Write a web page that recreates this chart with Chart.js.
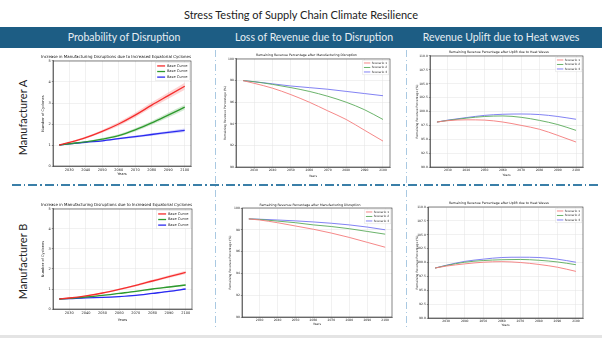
<!DOCTYPE html>
<html>
<head>
<meta charset="utf-8">
<script src="https://cdn.jsdelivr.net/npm/chart.js@4.4.1/dist/chart.umd.min.js"></script>
<style>
  body { margin: 0; width: 602px; height: 338px; position: relative; background: #fff; overflow: hidden; font-family: Lato, sans-serif; }
  #title { position: absolute; left: 0; top: 8px; width: 602px; text-align: center; font-size: 11px; color: #222; }
  #band { position: absolute; left: 0; top: 27px; width: 602px; height: 21px; background: #1d5d84; }
  .hd { position: absolute; top: 31px; width: 200px; margin-left: -100px; text-align: center; font-size: 10.5px; color: #e6edf3; white-space: nowrap; }
  .rowlbl { position: absolute; width: 120px; margin-left: -60px; text-align: center; font-size: 11px; color: #222; transform: rotate(-90deg); white-space: nowrap; }
  .vsep { position: absolute; width: 1px;
    background: repeating-linear-gradient(to bottom, #a9c9e2 0 7px, transparent 7px 10px, #a9c9e2 10px 11px, transparent 11px 14px); }
  #hsep { position: absolute; left: 12px; top: 184px; width: 588px; height: 1.5px;
    background: repeating-linear-gradient(to right, #3a7fa8 0 9px, transparent 9px 12px, #3a7fa8 12px 13.5px, transparent 13.5px 16.5px); }
  #foot { position: absolute; left: 0; top: 335px; width: 602px; height: 3px; background: #e4e4e4; }
  .box { position: absolute; }
</style>
</head>
<body>
<div id="title">Stress Testing of Supply Chain Climate Resilience</div>
<div id="band"></div>
<div class="hd" style="left:124px">Probability of Disruption</div>
<div class="hd" style="left:314px">Loss of Revenue due to Disruption</div>
<div class="hd" style="left:501px">Revenue Uplift due to Heat waves</div>
<div class="rowlbl" style="left:22px; top:111px">Manufacturer A</div>
<div class="rowlbl" style="left:22px; top:255px">Manufacturer B</div>
<div class="vsep" style="left:215px; top:50px; height:280px"></div>
<div class="vsep" style="left:406px; top:50px; height:280px"></div>
<div id="hsep"></div>
<div id="foot"></div>
<div class="box" id="a1"></div>
<div class="box" id="a2"></div>
<div class="box" id="a3"></div>
<div class="box" id="b1"></div>
<div class="box" id="b2"></div>
<div class="box" id="b3"></div>
<script>
// years on the x axis and their ticks
const years = [2024, 2030, 2040, 2050, 2060, 2070, 2080, 2090, 2100];
const xTicks = [2030, 2040, 2050, 2060, 2070, 2080, 2090, 2100];
const cycTicks = [0, 1, 2, 3, 4, 5];
const lossTicks = [90, 92, 94, 96, 98, 100];
const upliftTicks = [90, 92.5, 95, 97.5, 100, 102.5, 105, 107.5, 110];

const cycLabels = ['Base Curve', 'Base Curve', 'Base Curve'];
const scenLabels = ['Scenario 1', 'Scenario 2', 'Scenario 3'];

// Manufacturer A - number of cyclones
const aCycRed   = [1.0, 1.12, 1.35, 1.65, 2.0, 2.42, 2.9, 3.35, 3.8];
const aCycGreen = [1.0, 1.06, 1.15, 1.28, 1.45, 1.72, 2.05, 2.42, 2.8];
const aCycBlue  = [1.0, 1.05, 1.13, 1.2, 1.3, 1.4, 1.5, 1.6, 1.7];
const aSpreadRed   = [0, 0.02, 0.05, 0.07, 0.09, 0.11, 0.13, 0.15, 0.17];
const aSpreadGreen = [0, 0.02, 0.03, 0.05, 0.06, 0.08, 0.09, 0.11, 0.12];
const aSpreadBlue  = [0, 0.01, 0.02, 0.03, 0.04, 0.05, 0.06, 0.07, 0.08];

// Manufacturer B - number of cyclones
const bCycRed   = [0.5, 0.55, 0.66, 0.8, 0.98, 1.18, 1.4, 1.62, 1.83];
const bCycGreen = [0.5, 0.53, 0.6, 0.68, 0.78, 0.88, 1.0, 1.1, 1.2];
const bCycBlue  = [0.5, 0.52, 0.56, 0.58, 0.62, 0.68, 0.78, 0.88, 1.0];
const bSpreadRed   = [0, 0.01, 0.02, 0.03, 0.04, 0.05, 0.06, 0.07, 0.08];
const bSpreadGreen = [0, 0.01, 0.01, 0.02, 0.02, 0.03, 0.03, 0.04, 0.04];
const bSpreadBlue  = [0, 0.01, 0.01, 0.01, 0.02, 0.02, 0.02, 0.03, 0.03];

// remaining revenue after disruption (%)
const aLoss1 = [98, 97.75, 97.3, 96.7, 96.0, 95.2, 94.4, 93.4, 92.4];
const aLoss2 = [98, 97.9, 97.65, 97.35, 97.0, 96.55, 96.0, 95.3, 94.4];
const aLoss3 = [98, 97.9, 97.7, 97.5, 97.35, 97.2, 97.0, 96.8, 96.6];
const bLoss1 = [99, 98.9, 98.65, 98.35, 98.05, 97.7, 97.3, 96.85, 96.4];
const bLoss2 = [99, 98.95, 98.8, 98.65, 98.45, 98.3, 98.1, 97.85, 97.6];
const bLoss3 = [99, 98.97, 98.9, 98.82, 98.72, 98.6, 98.45, 98.25, 98.0];

// remaining revenue after heat wave uplift (%)
const aUp1 = [98.1, 98.35, 98.5, 98.45, 98.1, 97.5, 96.8, 95.7, 94.5];
const aUp2 = [98.1, 98.4, 98.8, 99.1, 99.2, 98.95, 98.4, 97.65, 96.6];
const aUp3 = [98.1, 98.45, 98.9, 99.3, 99.5, 99.55, 99.45, 99.1, 98.6];
const bUp1 = [99, 99.35, 99.75, 100.05, 100.15, 100.0, 99.65, 99.15, 98.4];
const bUp2 = [99, 99.45, 100.05, 100.35, 100.5, 100.55, 100.4, 100.1, 99.6];
const bUp3 = [99, 99.5, 100.2, 100.6, 100.9, 100.95, 100.9, 100.6, 100.05];

const cycColors = ['#f52a2a', '#2e9a2e', '#2b2bf0'];
const cycFill = ['rgba(245,60,60,0.22)', 'rgba(46,154,46,0.22)', 'rgba(43,43,240,0.22)'];
const revColors = ['#f47a7a', '#5aaa5a', '#7474f2'];

function pts(vals) {
  return years.map((x, i) => ({ x: x, y: vals[i] }));
}

// matplotlib-like frame and legend inside the axes
const mplPlugin = {
  id: 'mpl',
  afterDraw(chart, args, o) {
    const a = chart.chartArea, ctx = chart.ctx;
    ctx.save();
    ctx.strokeStyle = '#333';
    ctx.lineWidth = 0.6;
    ctx.strokeRect(a.left, a.top, a.right - a.left, a.bottom - a.top);
    const fs = o.fs, rowH = fs * 1.55;
    ctx.font = fs + 'px "DejaVu Sans"';
    let tw = 0;
    o.labels.forEach(l => { tw = Math.max(tw, ctx.measureText(l).width); });
    const w = o.lineLen + fs * 0.7 + tw + fs * 0.8;
    const h = rowH * o.labels.length + fs * 0.4;
    const x0 = a.right - w - fs * 0.4, y0 = a.top + fs * 0.4;
    ctx.fillStyle = 'rgba(255,255,255,0.85)';
    ctx.strokeStyle = '#dddddd';
    ctx.lineWidth = 0.5;
    ctx.fillRect(x0, y0, w, h);
    ctx.strokeRect(x0, y0, w, h);
    o.labels.forEach((l, i) => {
      const y = y0 + fs * 0.2 + rowH * (i + 0.5);
      ctx.strokeStyle = o.colors[i];
      ctx.lineWidth = o.lw;
      ctx.beginPath();
      ctx.moveTo(x0 + fs * 0.4, y);
      ctx.lineTo(x0 + fs * 0.4 + o.lineLen, y);
      ctx.stroke();
      ctx.fillStyle = '#222';
      ctx.textBaseline = 'middle';
      ctx.fillText(l, x0 + fs * 0.4 + o.lineLen + fs * 0.5, y);
    });
    ctx.restore();
  }
};

function makeChart(id, s) {
  const [l, t, r, b] = s.plot;
  const bx = Math.round(s.yTitleX - s.axisFs * 0.6);
  const by = Math.round(s.titleY - s.titleFs * 0.6 - 0.5);
  const bb = Math.round(s.xTitleY + s.axisFs * 0.6);
  const br = Math.round(2 * ((l + r) / 2) - bx);
  const el = document.getElementById(id);
  el.style.left = bx + 'px';
  el.style.top = by + 'px';
  el.style.width = (br - bx) + 'px';
  el.style.height = (bb - by) + 'px';
  const cv = document.createElement('canvas');
  el.appendChild(cv);
  const yW = l - bx, xH = bb - b;
  const titleTop = s.titleY - s.titleFs * 0.6 - by;
  const titleBottom = t - (s.titleY + s.titleFs * 0.6);
  const tickFont = { family: 'DejaVu Sans', size: s.tickFs };
  new Chart(cv, {
    type: 'line',
    data: { datasets: s.datasets },
    plugins: [mplPlugin],
    options: {
      responsive: true,
      maintainAspectRatio: false,
      animation: false,
      layout: { padding: { left: 0, top: Math.max(0, titleTop), right: br - r, bottom: 0 }, autoPadding: false },
      elements: { point: { radius: 0 }, line: { cubicInterpolationMode: 'monotone' } },
      plugins: {
        legend: { display: false },
        tooltip: { enabled: false },
        title: {
          display: true, text: s.title, color: '#111', fullSize: true,
          font: { family: 'DejaVu Sans', size: s.titleFs, weight: 'normal', lineHeight: 1.2 },
          padding: { top: 0, bottom: Math.max(0, titleBottom) }
        },
        mpl: { labels: s.labels, colors: s.colors, fs: s.legendFs, lineLen: s.legendFs * 2.2, lw: s.lw }
      },
      scales: {
        x: {
          type: 'linear', min: 2020.2, max: 2103.8,
          afterBuildTicks: sc => { sc.ticks = xTicks.map(v => ({ value: v })); },
          afterFit: sc => { sc.height = xH; },
          grid: { color: '#e2e2e2', lineWidth: 0.5, tickLength: 1.2, tickColor: '#333' },
          border: { color: '#333', width: 0.6 },
          ticks: { font: tickFont, color: '#222', padding: 0.5, maxRotation: 0, autoSkip: false, callback: v => String(v) },
          title: { display: true, text: 'Years', color: '#222', font: { family: 'DejaVu Sans', size: s.axisFs, lineHeight: 1.2 }, padding: 0 }
        },
        y: {
          min: s.yTicks[0], max: s.yTicks[s.yTicks.length - 1],
          afterBuildTicks: sc => { sc.ticks = s.yTicks.map(v => ({ value: v })); },
          afterFit: sc => { sc.width = yW; },
          grid: { color: '#e2e2e2', lineWidth: 0.5, tickLength: 1.2, tickColor: '#333' },
          border: { color: '#333', width: 0.6 },
          ticks: { font: tickFont, color: '#222', padding: 1, autoSkip: false, callback: s.yFmt },
          title: { display: true, text: s.yTitle, color: '#222', font: { family: 'DejaVu Sans', size: s.axisFs, lineHeight: 1.2 }, padding: 0 }
        }
      }
    }
  });
}

function cycDatasets(mids, spreads) {
  const ds = [];
  mids.forEach((m, k) => {
    const sp = spreads[k];
    ds.push({ data: pts(m.map((v, i) => v + sp[i])), borderWidth: 0, fill: false });
    ds.push({ data: pts(m.map((v, i) => v - sp[i])), borderWidth: 0, fill: '-1', backgroundColor: cycFill[k] });
  });
  mids.forEach((m, k) => {
    ds.push({ data: pts(m), borderColor: cycColors[k], borderWidth: 1.3, fill: false });
  });
  return ds;
}

function revDatasets(series) {
  return series.map((v, k) => ({ data: pts(v), borderColor: revColors[k], borderWidth: 0.9, fill: false }));
}

const cycTitle = 'Increase in Manufacturing Disruptions due to Increased Equatorial Cyclones';
const lossTitle = 'Remaining Revenue Percentage after Manufacturing Disruption';
const upTitle = 'Remaining Revenue Percentage after Uplift due to Heat Waves';
const revYTitle = 'Remaining Revenue Percentage (%)';

const cycBase = { title: cycTitle, yTitle: 'Number of Cyclones', yTicks: cycTicks, yFmt: v => String(v),
  titleFs: 4.1, tickFs: 3.5, axisFs: 3.6, legendFs: 3.6, labels: cycLabels, colors: cycColors, lw: 1.3 };
const revBase = { yTitle: revYTitle, titleFs: 3.2, tickFs: 3.0, axisFs: 3.0, legendFs: 2.9,
  labels: scenLabels, colors: revColors, lw: 0.9 };

makeChart('a1', Object.assign({}, cycBase, { plot: [53, 61, 191, 166], titleY: 57, yTitleX: 43, xTitleY: 174,
  datasets: cycDatasets([aCycRed, aCycGreen, aCycBlue], [aSpreadRed, aSpreadGreen, aSpreadBlue]) }));
makeChart('b1', Object.assign({}, cycBase, { plot: [53, 209, 192, 309], titleY: 205, yTitleX: 43, xTitleY: 319.5,
  datasets: cycDatasets([bCycRed, bCycGreen, bCycBlue], [bSpreadRed, bSpreadGreen, bSpreadBlue]) }));
makeChart('a2', Object.assign({}, revBase, { title: lossTitle, yTicks: lossTicks, yFmt: v => String(v),
  plot: [236, 59, 390, 167], titleY: 55.5, yTitleX: 225, xTitleY: 176,
  datasets: revDatasets([aLoss1, aLoss2, aLoss3]) }));
makeChart('b2', Object.assign({}, revBase, { title: lossTitle, yTicks: lossTicks, yFmt: v => String(v),
  plot: [242, 208, 392, 317], titleY: 205, yTitleX: 230, xTitleY: 324,
  datasets: revDatasets([bLoss1, bLoss2, bLoss3]) }));
makeChart('a3', Object.assign({}, revBase, { title: upTitle, yTicks: upliftTicks, yFmt: v => v.toFixed(1),
  plot: [430, 56, 583, 167], titleY: 52.5, yTitleX: 417, xTitleY: 175,
  datasets: revDatasets([aUp1, aUp2, aUp3]) }));
makeChart('b3', Object.assign({}, revBase, { title: upTitle, yTicks: upliftTicks, yFmt: v => v.toFixed(1),
  plot: [428, 207, 583, 318], titleY: 203.5, yTitleX: 417, xTitleY: 325,
  datasets: revDatasets([bUp1, bUp2, bUp3]) }));
</script>
</body>
</html>
